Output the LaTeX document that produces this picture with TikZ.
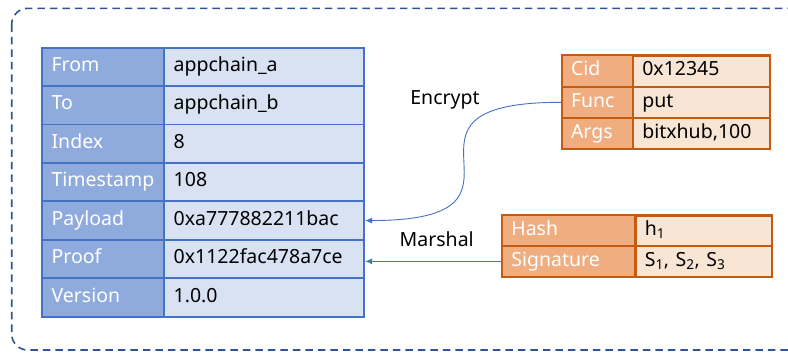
\documentclass[tikz,border=0pt]{standalone}
\usepackage{fontspec}
\setmainfont{Noto Sans}
\usetikzlibrary{arrows.meta}

\definecolor{frame}{HTML}{2F5597}
\definecolor{bborder}{HTML}{4472C4}
\definecolor{blab}{HTML}{8FAADC}
\definecolor{bval}{HTML}{D9E2F3}
\definecolor{oborder}{HTML}{C55A11}
\definecolor{olab}{HTML}{F0AD7F}
\definecolor{oval}{HTML}{F9E5D4}
\definecolor{link}{HTML}{4472C4}

\tikzset{
  cell/.style={rectangle, anchor=north west, inner ysep=0pt, align=left,
    font=\fontsize{19.5}{23}\selectfont, text height=14pt, text depth=4.5pt},
  bluelab/.style={cell, draw=bborder, line width=1.8pt, fill=blab, text=white,
    minimum width=122.6pt, text width=102.6pt, inner xsep=10pt, minimum height=38.43pt},
  blueval/.style={cell, draw=bborder, line width=1.8pt, fill=bval, text=black,
    minimum width=200pt, text width=181pt, inner xsep=9.5pt, minimum height=38.43pt},
  orlab/.style={cell, draw=oborder, line width=2pt, fill=olab, text=white, inner xsep=9pt},
  orval/.style={cell, draw=oborder, line width=2.2pt, fill=oval, text=black, inner xsep=9.5pt},
  tag/.style={font=\fontsize{19.5}{23}\selectfont, inner sep=0pt},
  arr/.style={draw=link, line width=0.9pt, -{Latex[length=7pt,width=6pt]}},
}

\begin{document}
\begin{tikzpicture}[x=1pt, y=-1pt]
  \useasboundingbox (0,0) rectangle (788,354);
  \clip (0,0) rectangle (788,354);

  % dashed outer frame, its right side runs past the page edge
  \draw[frame, line width=1.6pt, dash pattern=on 7.5pt off 5pt, rounded corners=16pt]
    (11.7,8.3) rectangle (830,350);

  % message table
  \node[bluelab] (lfrom)  at (40.7, 46.70) {From};
  \node[blueval] (vfrom)  at (163.3,46.70) {appchain\_a};
  \node[bluelab] (lto)    at (40.7, 85.13) {To};
  \node[blueval] (vto)    at (163.3,85.13) {appchain\_b};
  \node[bluelab] (lindex) at (40.7, 123.56) {Index};
  \node[blueval] (vindex) at (163.3,123.56) {8};
  \node[bluelab] (lts)    at (40.7, 161.99) {Timestamp};
  \node[blueval] (vts)    at (163.3,161.99) {108};
  \node[bluelab] (lpay)   at (40.7, 200.42) {Payload};
  \node[blueval] (payload) at (163.3,200.42) {0xa777882211bac};
  \node[bluelab] (lproof) at (40.7, 238.85) {Proof};
  \node[blueval] (proof)  at (163.3,238.85) {0x1122fac478a7ce};
  \node[bluelab] (lver)   at (40.7, 277.28) {Version};
  \node[blueval] (vver)   at (163.3,277.28) {1.0.0};

  % payload content
  \tikzset{r1/.style={minimum height=31.33pt}}
  \node[orlab, r1, minimum width=70.7pt, text width=52.7pt] (cid)  at (561, 54.3) {Cid};
  \node[orval, r1, minimum width=137.3pt, text width=118.3pt] (vcid) at (631.7,54.3) {0x12345};
  \node[orlab, r1, minimum width=70.7pt, text width=52.7pt] (func) at (561, 85.63) {Func};
  \node[orval, r1, minimum width=137.3pt, text width=118.3pt] (vfunc) at (631.7,85.63) {put};
  \node[orlab, r1, minimum width=70.7pt, text width=52.7pt] (args) at (561, 116.96) {Args};
  \node[orval, r1, minimum width=137.3pt, text width=118.3pt] (vargs) at (631.7,116.96) {bitxhub,100};

  % proof content
  \tikzset{r2/.style={minimum height=30.7pt}}
  \node[orlab, r2, minimum width=133pt, text width=115pt] (hash) at (501.3,214.3) {Hash};
  \node[orval, r2, minimum width=136.4pt, text width=117.4pt] (vhash) at (634.3,214.3) {h\textsubscript{1}};
  \node[orlab, r2, minimum width=133pt, text width=115pt] (sig) at (501.3,245) {Signature};
  \node[orval, r2, minimum width=136.4pt, text width=117.4pt] (vsig) at (634.3,245)
    {S\textsubscript{1}, S\textsubscript{2}, S\textsubscript{3}};

  % connectors
  \draw[arr] (func.west) .. controls +(-198,0) and +(198,0) .. (payload.east);
  \draw[arr] (sig.west) -- (proof.east |- sig.west);

  \node[tag] (enc) at (445,100) {Encrypt};
  \node[tag] (mar) at (436.7,238.7) {Marshal};
\end{tikzpicture}
\end{document}
